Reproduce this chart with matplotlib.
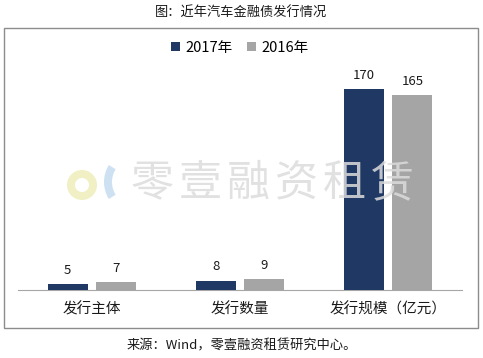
import matplotlib.pyplot as plt
import numpy as np
from matplotlib.patches import Rectangle, Wedge

plt.rcParams['font.family'] = ['Noto Sans CJK SC', 'DejaVu Sans']

categories = ['发行主体', '发行数量', '发行规模（亿元）']
vals_2017 = [5, 8, 170]
vals_2016 = [7, 9, 165]
series_names = ['2017年', '2016年']
colors = ['#1F3864', '#A5A5A5']

W, H = 483, 358
fig = plt.figure(figsize=(W / 100, H / 100), dpi=100)

def pixel_layer(z):
    # full-figure axes in pixel units, y pointing down
    a = fig.add_axes([0, 0, 1, 1], zorder=z)
    a.set_xlim(0, W)
    a.set_ylim(H, 0)
    a.axis('off')
    a.patch.set_alpha(0)
    return a

bg = pixel_layer(0)
bg.add_patch(Rectangle((4, 28), 474, 300, fill=False, edgecolor='#8C8C8C', linewidth=1.0))
bg.text(W / 2, 13, '图：近年汽车金融债发行情况', ha='center', va='center', fontsize=9.5, color='#1A1A1A')
bg.text(W / 2, 346, '来源：Wind，零壹融资租赁研究中心。', ha='center', va='center', fontsize=9.5, color='#1A1A1A')

ax = fig.add_axes([18 / W, 1 - 290 / H, 444 / W, 230 / H], zorder=1)
ax.patch.set_alpha(0)
x = np.arange(len(categories))
w = 0.27
b1 = ax.bar(x - 0.165, vals_2017, w, color=colors[0], label=series_names[0], zorder=3)
b2 = ax.bar(x + 0.165, vals_2016, w, color=colors[1], label=series_names[1], zorder=3)
for bars in (b1, b2):
    for r in bars:
        ax.text(r.get_x() + r.get_width() / 2, r.get_height() + 6, f'{r.get_height():g}',
                ha='center', va='bottom', fontsize=9.5, color='#1A1A1A')

ax.set_xlim(-0.5, 2.5)
ax.set_ylim(0, 194.6)
ax.set_yticks([])
ax.set_xticks(x)
ax.set_xticklabels(categories, fontsize=10.5, color='#1A1A1A')
ax.tick_params(axis='x', length=0, pad=9)
for s in ('top', 'right', 'left'):
    ax.spines[s].set_visible(False)
ax.spines['bottom'].set_color('#A6A6A6')

ax.legend(loc='center', bbox_to_anchor=(0.5, (290 - 48) / 230), ncol=2, frameon=False,
          fontsize=10.5, handlelength=0.6, handleheight=0.6, handletextpad=0.4, columnspacing=1.0)

# watermark sits on top of the bars, semi-transparent
wm = pixel_layer(2)
wm.add_patch(Wedge((82, 185), 15, 0, 360, width=8, facecolor='#EFEFBE', edgecolor='none', alpha=0.9))
wm.add_patch(Wedge((136, 182), 32, 148, 212, width=8, facecolor='#C8DEF1', edgecolor='none', alpha=0.9))
for i, ch in enumerate('零壹融资租赁'):
    wm.text(152 + 48 * i, 184, ch, ha='center', va='center', fontsize=31,
            color='#DCDCDC', fontweight='light', alpha=0.85)

fig.savefig('out.png', dpi=100)
